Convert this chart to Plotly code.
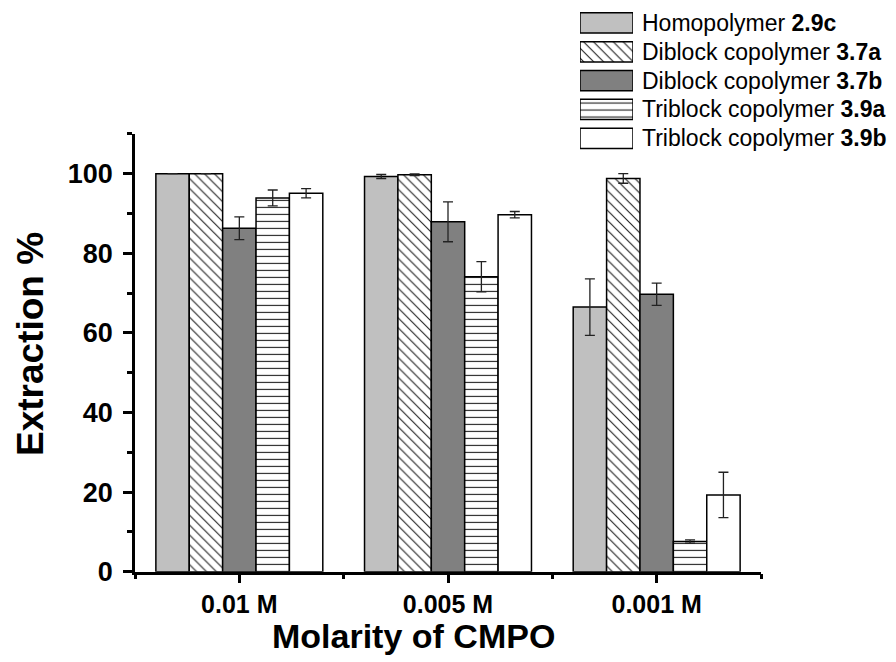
import plotly.graph_objects as go

# Extraction efficiency by CMPO molarity
categories = ["0.01 M", "0.005 M", "0.001 M"]

series_names = [
    "Homopolymer <b>2.9c</b>",
    "Diblock copolymer <b>3.7a</b>",
    "Diblock copolymer <b>3.7b</b>",
    "Triblock copolymer <b>3.9a</b>",
    "Triblock copolymer <b>3.9b</b>",
]

homo_2_9c = [100.0, 99.3, 66.5]
homo_2_9c_err = [0.0, 0.5, 7.1]

diblock_3_7a = [100.0, 99.75, 98.8]
diblock_3_7a_err = [0.0, 0.2, 1.2]

diblock_3_7b = [86.3, 87.9, 69.7]
diblock_3_7b_err = [2.85, 5.0, 2.8]

triblock_3_9a = [93.9, 74.1, 7.6]
triblock_3_9a_err = [2.0, 3.8, 0.4]

triblock_3_9b = [95.1, 89.7, 19.3]
triblock_3_9b_err = [1.15, 0.8, 5.7]

y_ticks = [0, 20, 40, 60, 80, 100]

values = [homo_2_9c, diblock_3_7a, diblock_3_7b, triblock_3_9a, triblock_3_9b]
errors = [homo_2_9c_err, diblock_3_7a_err, diblock_3_7b_err, triblock_3_9a_err, triblock_3_9b_err]

# fill styles: (base colour, pattern shape)
styles = [
    ("#c0c0c0", ""),
    ("#ffffff", "\\"),
    ("#808080", ""),
    ("#ffffff", "-"),
    ("#ffffff", ""),
]

FONT = "Liberation Sans, Arial, sans-serif"
W, H = 896, 662

# plot-area geometry in pixels
PX_L, PX_R, PX_T, PX_B = 135, 761, 137, 585


def marker_for(color, shape):
    m = dict(color=color, line=dict(color="black", width=1.5))
    if shape:
        m["pattern"] = dict(shape=shape, fgcolor="#222222", bgcolor=color,
                            size=7, solidity=0.16, fillmode="replace")
    return m


fig = go.Figure()
x_pos = list(range(len(categories)))

for name, vals, errs, (color, shape) in zip(series_names, values, errors, styles):
    fig.add_trace(go.Bar(
        x=x_pos, y=vals, name=name,
        marker=marker_for(color, shape),
        error_y=dict(type="data", array=errs, visible=True,
                     color="#222222", thickness=1.3, width=5),
        showlegend=False,
    ))

# legend swatches drawn as unit-length horizontal bars on their own axes
for name, (color, shape) in zip(series_names, styles):
    fig.add_trace(go.Bar(
        x=[1], y=[name], orientation="h",
        marker=marker_for(color, shape),
        width=0.7, xaxis="x2", yaxis="y2", showlegend=False, hoverinfo="skip",
    ))

annotations = []
# legend labels
LEG_TOP, LEG_STEP = 23.5, 29.5
for i, name in enumerate(series_names):
    yc = LEG_TOP + i * LEG_STEP
    annotations.append(dict(
        text=name, x=640 / W, y=1 - yc / H, xref="paper", yref="paper",
        xanchor="left", yanchor="middle", showarrow=False,
        font=dict(family=FONT, size=23, color="black"),
    ))

# axis titles
annotations.append(dict(
    text="<b>Molarity of CMPO</b>", x=413 / W, y=1 - 651 / H,
    xref="paper", yref="paper", xanchor="center", yanchor="middle",
    showarrow=False, font=dict(family=FONT, size=34, color="black"),
))
annotations.append(dict(
    text="<b>Extraction %</b>", x=30 / W, y=1 - 352 / H, textangle=-90,
    xref="paper", yref="paper", xanchor="center", yanchor="middle",
    showarrow=False, font=dict(family=FONT, size=37, color="black"),
))

leg_top_px = LEG_TOP - LEG_STEP / 2
leg_bot_px = LEG_TOP + (len(series_names) - 1) * LEG_STEP + LEG_STEP / 2

fig.update_layout(
    width=W, height=H,
    margin=dict(l=0, r=0, t=0, b=0),
    paper_bgcolor="white", plot_bgcolor="white",
    barmode="group", bargap=0.2, bargroupgap=0,
    showlegend=False,
    annotations=annotations,
    xaxis=dict(
        domain=[PX_L / W, PX_R / W],
        range=[-0.5, 2.5],
        tickvals=x_pos, ticktext=categories,
        tickfont=dict(family=FONT, size=25, color="black", weight="bold"),
        ticks="outside", ticklen=9, tickwidth=2.5, tickcolor="black",
        ticklabelstandoff=0,
        minor=dict(tickvals=[-0.5, 0.5, 1.5, 2.5], ticks="outside",
                   ticklen=5, tickwidth=2.5, tickcolor="black"),
        showline=True, linecolor="black", linewidth=2.5,
        showgrid=False, zeroline=False, fixedrange=True,
    ),
    yaxis=dict(
        domain=[1 - PX_B / H, 1 - PX_T / H],
        range=[0, 110],
        tickvals=y_ticks,
        tickfont=dict(family=FONT, size=27, color="black", weight="bold"),
        ticks="outside", ticklen=9, tickwidth=2.5, tickcolor="black",
        ticklabelstandoff=5,
        minor=dict(tickvals=[10, 30, 50, 70, 90, 110], ticks="outside",
                   ticklen=5, tickwidth=2.5, tickcolor="black"),
        showline=True, linecolor="black", linewidth=2.5,
        showgrid=False, zeroline=False, fixedrange=True,
    ),
    xaxis2=dict(
        domain=[580 / W, 633 / W], range=[0, 1], anchor="y2",
        visible=False, fixedrange=True,
    ),
    yaxis2=dict(
        domain=[1 - leg_bot_px / H, 1 - leg_top_px / H], anchor="x2",
        categoryorder="array", categoryarray=series_names,
        autorange="reversed", visible=False, fixedrange=True,
    ),
)

fig.write_html("out.html")
